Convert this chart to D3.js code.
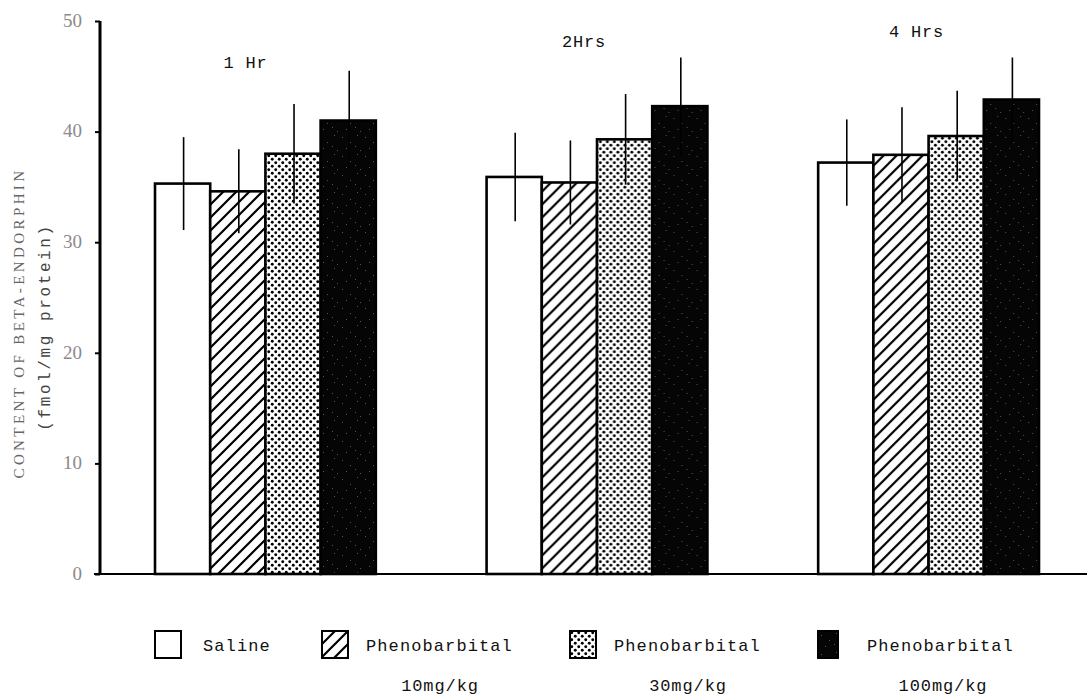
<!DOCTYPE html>
<html>
<head>
<meta charset="utf-8">
<script src="https://cdn.jsdelivr.net/npm/d3@7"></script>
<style>
  html, body { margin: 0; padding: 0; background: #fff; }
  svg { display: block; }
</style>
</head>
<body>
<svg id="chart" width="1087" height="698"></svg>
<script>
// Beta-endorphin content after saline or phenobarbital, by time after dosing
const groups = ["1 Hr", "2Hrs", "4 Hrs"];
const series = ["Saline", "Phenobarbital 10mg/kg", "Phenobarbital 30mg/kg", "Phenobarbital 100mg/kg"];
const legendLine1 = ["Saline", "Phenobarbital", "Phenobarbital", "Phenobarbital"];
const legendLine2 = ["", "10mg/kg", "30mg/kg", "100mg/kg"];
// mean values, one row per group (series order as above)
const means = [
  [35.3, 34.6, 38.0, 41.0],
  [35.9, 35.4, 39.3, 42.3],
  [37.2, 37.9, 39.6, 42.9]
];
// error (± SD)
const errors = [
  [4.2, 3.8, 4.5, 4.5],
  [4.0, 3.8, 4.1, 4.4],
  [3.9, 4.3, 4.1, 3.8]
];
const yTicks = [0, 10, 20, 30, 40, 50];

const svg = d3.select("#chart");
const mono = "'Liberation Mono', 'DejaVu Sans Mono', monospace";
const serif = "'Liberation Serif', 'DejaVu Serif', serif";

const axisX = 100, baseY = 574, topY = 21;
const y = d3.scaleLinear().domain([0, 50]).range([baseY, topY]);
const x0 = d3.scaleBand().domain(groups).range([155, 1039]).paddingInner(0.334).paddingOuter(0);
const x1 = d3.scaleBand().domain(series).range([0, x0.bandwidth()]).padding(0);

// fill patterns
const defs = svg.append("defs");
const hatch = defs.append("pattern").attr("id", "hatch").attr("patternUnits", "userSpaceOnUse")
  .attr("width", 13).attr("height", 13);
hatch.append("rect").attr("width", 13).attr("height", 13).attr("fill", "#fff");
hatch.append("path").attr("d", "M-3,16 L16,-3 M-3,3 L3,-3 M10,16 L16,10")
  .attr("stroke", "#000").attr("stroke-width", 2.2);

const dots = defs.append("pattern").attr("id", "dots").attr("patternUnits", "userSpaceOnUse")
  .attr("width", 7).attr("height", 7);
dots.append("rect").attr("width", 7).attr("height", 7).attr("fill", "#fff");
dots.append("circle").attr("cx", 1.75).attr("cy", 1.75).attr("r", 1.45).attr("fill", "#000");
dots.append("circle").attr("cx", 5.25).attr("cy", 5.25).attr("r", 1.45).attr("fill", "#000");

const dark = defs.append("pattern").attr("id", "dark").attr("patternUnits", "userSpaceOnUse")
  .attr("width", 23).attr("height", 19);
dark.append("rect").attr("width", 23).attr("height", 19).attr("fill", "#050505");
[[3, 4], [11, 9], [18, 2], [7, 15], [16, 13], [21, 17]].forEach(([cx, cy]) =>
  dark.append("rect").attr("x", cx).attr("y", cy).attr("width", 1).attr("height", 1).attr("fill", "#555"));

const fills = ["#fff", "url(#hatch)", "url(#dots)", "url(#dark)"];
const fillOf = d3.scaleOrdinal().domain(series).range(fills);

// bars
const rows = groups.map((g, gi) => series.map((s, si) => ({
  group: g, series: s, value: means[gi][si], err: errors[gi][si]
})));

const gGroups = svg.selectAll("g.group").data(rows).join("g")
  .attr("class", "group")
  .attr("transform", (d, i) => `translate(${x0(groups[i])},0)`);

gGroups.selectAll("rect").data(d => d).join("rect")
  .attr("x", d => x1(d.series))
  .attr("y", d => y(d.value))
  .attr("width", x1.bandwidth())
  .attr("height", d => y(0) - y(d.value))
  .attr("fill", d => fillOf(d.series))
  .attr("stroke", "#000")
  .attr("stroke-width", 2.6);

gGroups.selectAll("line.err").data(d => d).join("line")
  .attr("class", "err")
  .attr("x1", d => x1(d.series) + x1.bandwidth() / 2 + 1)
  .attr("x2", d => x1(d.series) + x1.bandwidth() / 2 + 1)
  .attr("y1", d => y(d.value + d.err))
  .attr("y2", d => y(d.value - d.err))
  .attr("stroke", "#000")
  .attr("stroke-width", 1.6);

// group labels
const labelPos = [{dx: -20, y: 68}, {dx: -13, y: 47}, {dx: -12, y: 37}];
svg.selectAll("text.glabel").data(groups).join("text")
  .attr("class", "glabel")
  .attr("x", (d, i) => x0(d) + x0.bandwidth() / 2 + labelPos[i].dx)
  .attr("y", (d, i) => labelPos[i].y)
  .attr("text-anchor", "middle")
  .attr("font-family", mono)
  .attr("font-size", 17)
  .attr("letter-spacing", 0.8)
  .attr("fill", "#111")
  .text(d => d);

// y axis
const yAxis = d3.axisLeft(y).tickValues(yTicks).tickSize(5).tickPadding(13);
const gy = svg.append("g").attr("transform", `translate(${axisX},0)`).call(yAxis);
gy.select(".domain").attr("stroke", "#000").attr("stroke-width", 3)
  .attr("d", `M0,${topY}V${baseY}`);
gy.selectAll(".tick line").attr("stroke", "#000").attr("stroke-width", 2);
gy.selectAll(".tick text").attr("font-family", serif).attr("font-size", 19)
  .attr("fill", "#8a8a8a").attr("dy", "0.28em");

// x baseline
svg.append("line").attr("x1", axisX - 6).attr("x2", 1087).attr("y1", y(0)).attr("y2", y(0))
  .attr("stroke", "#000").attr("stroke-width", 2.2);

// y axis title
const yt = svg.append("g").attr("transform", "translate(0,323) rotate(-90)");
yt.append("text").attr("x", 0).attr("y", 24).attr("text-anchor", "middle")
  .attr("font-family", serif).attr("font-size", 15).attr("letter-spacing", 3.4).attr("fill", "#666")
  .text("CONTENT OF BETA-ENDORPHIN");
yt.append("text").attr("x", -4).attr("y", 50).attr("text-anchor", "middle")
  .attr("font-family", mono).attr("font-size", 16).attr("letter-spacing", 2.6).attr("fill", "#444")
  .text("(fmol/mg protein)");

// legend
const legendX = [155, 322, 570, 818];
const lg = svg.selectAll("g.legend").data(series).join("g")
  .attr("class", "legend")
  .attr("transform", (d, i) => `translate(${legendX[i]},631)`);
lg.append("rect").attr("width", (d, i) => i === 3 ? 20 : 26).attr("height", 27)
  .attr("fill", d => fillOf(d)).attr("stroke", "#000").attr("stroke-width", 2);
lg.append("text").attr("x", (d, i) => i === 3 ? 49 : (i === 0 ? 48 : 44)).attr("y", 20)
  .attr("font-family", mono).attr("font-size", 17).attr("letter-spacing", 1.1).attr("fill", "#111")
  .text((d, i) => legendLine1[i]);
lg.append("text").attr("x", (d, i) => i === 0 ? 0 : (i === 3 ? 125 : 118)).attr("y", 60)
  .attr("text-anchor", "middle")
  .attr("font-family", mono).attr("font-size", 17).attr("letter-spacing", 0.9).attr("fill", "#111")
  .text((d, i) => legendLine2[i]);
</script>
</body>
</html>
